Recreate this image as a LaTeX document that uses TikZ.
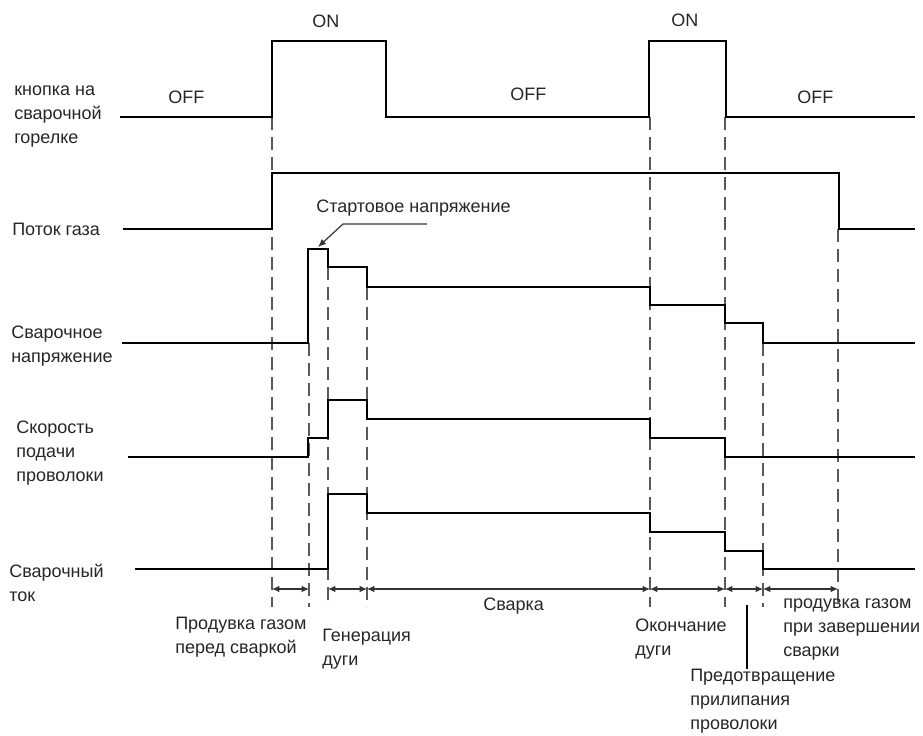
\documentclass[tikz,border=0pt]{standalone}
\usepackage{fontspec}
\setmainfont{Liberation Sans}
\usetikzlibrary{arrows.meta}
\definecolor{guidegray}{rgb}{0.35, 0.35, 0.35}
\definecolor{labelink}{rgb}{0.15, 0.15, 0.15}

\begin{document}
\begin{tikzpicture}[x=0.75pt, y=-0.75pt,
    wave/.style={line width=1.7pt, black, line join=miter},
    guide/.style={line width=1.1pt, guidegray, dash pattern=on 10pt off 5pt},
    span/.style={{Latex[length=5.5pt,width=5pt]}-{Latex[length=5.5pt,width=5pt]}, line width=0.9pt, black!80},
    lbl/.style={text=labelink, font=\fontsize{13.5}{18}\selectfont, inner sep=0pt, align=left, anchor=west}]
    \useasboundingbox (0,0) rectangle (923,735);

    % Timing marks: x position / top end of the dashed guide
    \foreach \x/\top [count=\i] in {272/117, 309/343, 328/267, 367/287, 650/117, 725/117, 763/343, 838/229} {
        \coordinate (t\i) at (\x,\top);
        \coordinate (m\i) at (\x,589);
        \draw[guide] (t\i) -- (\x,607);
    }

    % Signals (drawn as step lines)
    \draw[wave] (120,117) -| (272,41) -| (386,117) -| (649,41) -| (726,117) -- (915,117);
    \draw[wave] (123,229) -| (272,173) -| (839,229) -- (915,229);
    \draw[wave] (122,343) -| (308,249) -| (328,267) -| (367,287) -| (650,305) -| (725,323) -| (763,343) -- (915,343);
    \draw[wave] (128,457) -| (308,438) -| (328,400) -| (367,419) -| (650,438) -| (725,457) -- (915,457);
    \draw[wave] (135,569) -| (328,494) -| (367,513) -| (650,532) -| (725,551) -| (763,569) -- (915,569);

    % Row names
    \node[lbl] (btn)   at (14,117) {кнопка на\\сварочной\\горелке};
    \node[lbl] (gas)   at (12,229) {Поток газа};
    \node[lbl] (volt)  at (11,346) {Сварочное\\напряжение};
    \node[lbl] (wire)  at (16,453) {Скорость\\подачи\\проволоки};
    \node[lbl] (curr)  at (9,583)  {Сварочный\\ток};

    % Switch states
    \node[lbl] (off1) at (168,97) {OFF};
    \node[lbl] (on1)  at (312,21) {ON};
    \node[lbl] (off2) at (510,94) {OFF};
    \node[lbl] (on2)  at (671,20) {ON};
    \node[lbl] (off3) at (797,97) {OFF};

    % Start voltage pointer
    \node[lbl] (vstart) at (316,208) {Стартовое напряжение};
    \coordinate (lead) at (427,224);
    \coordinate (vpeak) at (318,247);
    \draw[line width=0.9pt, black!80, -{Latex[length=6pt,width=5pt]}] (lead) -- ++(-84,0) -- (vpeak);

    % Phase intervals
    \foreach \a/\b in {1/2, 3/4, 4/5, 5/6, 6/7, 7/8}
        \draw[span] (m\a) -- (m\b);

    % Phase names
    \node[lbl] (prepurge) at (175,637) {Продувка газом\\перед сваркой};
    \node[lbl] (arcgen)   at (322,649) {Генерация\\дуги};
    \node[lbl] (weld)     at (483,606) {Сварка};
    \node[lbl] (arcend)   at (635,639) {Окончание\\дуги};
    \node[lbl] (stick)    at (690,701) {Предотвращение\\прилипания\\проволоки};
    \node[lbl] (postpurge) at (783,630) {продувка газом\\при завершении\\сварки};
    \coordinate (stickmark) at (747,605);
    \draw[line width=0.9pt, black] (stickmark) -- (stickmark |- stick.north);

\end{tikzpicture}
\end{document}
